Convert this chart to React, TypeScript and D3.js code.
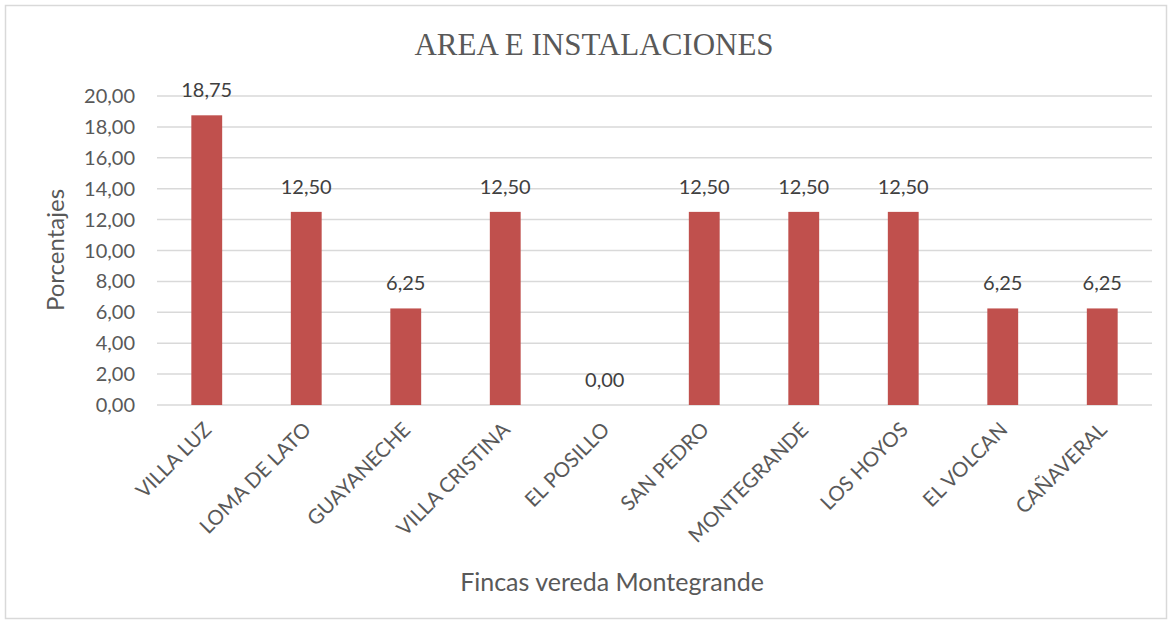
import * as d3 from 'd3';
import { useEffect, useRef } from 'react';

const fincas = ["VILLA LUZ", "LOMA DE LATO", "GUAYANECHE", "VILLA CRISTINA", "EL POSILLO", "SAN PEDRO", "MONTEGRANDE", "LOS HOYOS", "EL VOLCAN", "CAÑAVERAL"];
const porcentajes = [18.75, 12.5, 6.25, 12.5, 0, 12.5, 12.5, 12.5, 6.25, 6.25];
const yTicks = [0, 2, 4, 6, 8, 10, 12, 14, 16, 18, 20];

const fmt = (v: number) => v.toFixed(2).replace('.', ',');

const App = () => {
    const ref = useRef<SVGSVGElement>(null);

    useEffect(() => {
        const W = 1172, H = 624;
        const margin = { top: 96, right: 20, bottom: 219, left: 157 };
        const width = 1152 - margin.left;
        const height = 405 - margin.top;
        const font = "Lato, 'Open Sans', sans-serif";
        const grey = "#595959";

        const svg = d3.select(ref.current);
        svg.selectAll("*").remove();

        // frame
        svg.append("rect")
            .attr("x", 5.5).attr("y", 5.5)
            .attr("width", W - 11).attr("height", H - 11)
            .attr("fill", "#fff")
            .attr("stroke", "#d9d9d9")
            .attr("stroke-width", 1.5);

        const x = d3.scaleBand<string>()
            .domain(fincas)
            .range([0, width])
            .paddingInner(0.69)
            .paddingOuter(0.345);
        const y = d3.scaleLinear().domain([0, 20]).range([height, 0]);

        const g = svg.append("g")
            .attr("transform", "translate(" + margin.left + "," + margin.top + ")");

        // grid lines
        g.selectAll(".grid")
            .data(yTicks)
            .enter().append("line")
            .attr("x1", 0).attr("x2", width)
            .attr("y1", d => y(d)).attr("y2", d => y(d))
            .attr("stroke", "#d9d9d9")
            .attr("stroke-width", 1.5);

        // y tick labels
        g.selectAll(".ytick")
            .data(yTicks)
            .enter().append("text")
            .attr("x", -22)
            .attr("y", d => y(d))
            .attr("dy", "0.35em")
            .attr("text-anchor", "end")
            .style("font-family", font)
            .style("font-size", "20px")
            .attr("fill", grey)
            .text(d => fmt(d));

        // bars
        g.selectAll(".bar")
            .data(porcentajes)
            .enter().append("rect")
            .attr("x", (d, i) => x(fincas[i])!)
            .attr("width", x.bandwidth())
            .attr("y", d => y(d))
            .attr("height", d => height - y(d))
            .attr("fill", "#c0504d");

        // data labels
        g.selectAll(".lbl")
            .data(porcentajes)
            .enter().append("text")
            .attr("x", (d, i) => x(fincas[i])! + x.bandwidth() / 2)
            .attr("y", d => y(d) - 18)
            .attr("text-anchor", "middle")
            .style("font-family", font)
            .style("font-size", "20px")
            .attr("fill", "#404040")
            .text(d => fmt(d));

        // category labels
        g.selectAll(".xtick")
            .data(fincas)
            .enter().append("text")
            .attr("transform", d => "translate(" + (x(d)! + x.bandwidth() / 2 + 6) + "," + (height + 26) + ")rotate(-45)")
            .attr("text-anchor", "end")
            .style("font-family", font)
            .style("font-size", "20.5px")
            .attr("fill", grey)
            .text(d => d);

        // title
        svg.append("text")
            .attr("x", 594).attr("y", 55)
            .attr("text-anchor", "middle")
            .style("font-family", "'Liberation Serif', 'Times New Roman', serif")
            .style("font-size", "31px")
            .attr("fill", grey)
            .text("AREA E INSTALACIONES");

        // axis titles
        svg.append("text")
            .attr("transform", "translate(64,250)rotate(-90)")
            .attr("text-anchor", "middle")
            .style("font-family", font)
            .style("font-size", "24px")
            .attr("fill", grey)
            .text("Porcentajes");
        svg.append("text")
            .attr("x", 612).attr("y", 591)
            .attr("text-anchor", "middle")
            .style("font-family", font)
            .style("font-size", "25px")
            .attr("fill", grey)
            .text("Fincas vereda Montegrande");
    }, []);

    return (
        <svg ref={ref} width={1172} height={624} style={{ position: "absolute", left: 0, top: 0 }} />
    );
};

export default App;
